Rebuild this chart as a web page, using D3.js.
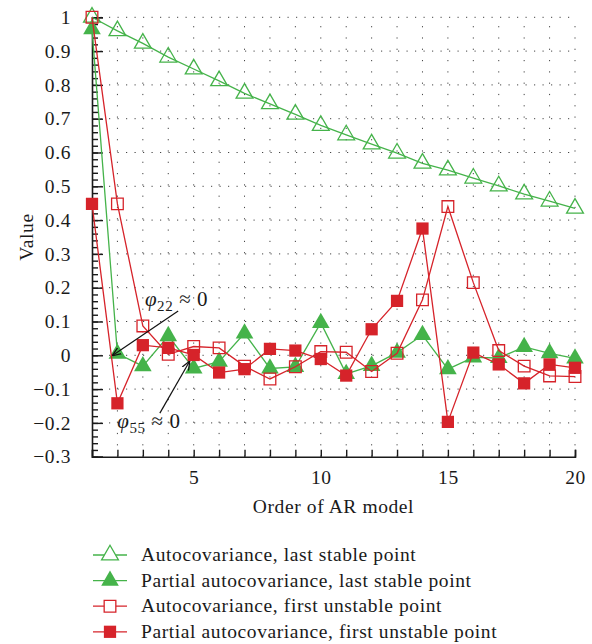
<!DOCTYPE html>
<html lang="en">
	<head>
		<meta charset="utf-8">
		<title>AR model autocovariance</title>
		<script src="https://d3js.org/d3.v7.min.js"></script>
		<style type="text/css">
			body {
				margin: 0;
				background: white;
			}
			text {
				font-family: "Liberation Serif", "Times New Roman", serif;
				fill: #1a1a1a;
				letter-spacing: 0.6px;
			}
		</style>
	</head>
	<body>
		<script type="text/javascript">
			//Data
			var orders = [1, 2, 3, 4, 5, 6, 7, 8, 9, 10, 11, 12, 13, 14, 15, 16, 17, 18, 19, 20];
			var acfStable = [1.0, 0.960, 0.923, 0.882, 0.847, 0.812, 0.775, 0.744, 0.713, 0.680, 0.652, 0.625, 0.598, 0.568, 0.548, 0.524, 0.501, 0.477, 0.456, 0.435];
			var pacfStable = [0.965, 0.005, -0.032, 0.057, -0.039, -0.019, 0.065, -0.039, -0.034, 0.096, -0.055, -0.031, 0.008, 0.060, -0.041, -0.006, -0.008, 0.025, 0.006, -0.009];
			var acfUnstable = [1.0, 0.448, 0.087, 0.003, 0.026, 0.022, -0.032, -0.070, -0.034, 0.011, 0.009, -0.048, 0.006, 0.164, 0.440, 0.215, 0.014, -0.032, -0.061, -0.063];
			var pacfUnstable = [0.448, -0.142, 0.030, 0.022, 0.001, -0.051, -0.041, 0.019, 0.014, -0.011, -0.060, 0.077, 0.161, 0.375, -0.197, 0.008, -0.027, -0.083, -0.027, -0.037];
			var seriesNames = ["Autocovariance, last stable point", "Partial autocovariance, last stable point", "Autocovariance, first unstable point", "Partial autocovariance, first unstable point"];
			var yTicks = [1, 0.9, 0.8, 0.7, 0.6, 0.5, 0.4, 0.3, 0.2, 0.1, 0, -0.1, -0.2, -0.3];
			var xTicks = [5, 10, 15, 20];

			var green = "#45b34a";
			var red = "#d6232a";

			var series = [
				{name: seriesNames[0], values: acfStable, color: green, shape: "triangle", filled: false},
				{name: seriesNames[1], values: pacfStable, color: green, shape: "triangle", filled: true},
				{name: seriesNames[2], values: acfUnstable, color: red, shape: "square", filled: false},
				{name: seriesNames[3], values: pacfUnstable, color: red, shape: "square", filled: true}
			];

			//Width and height
			var w = 592;
			var h = 644;
			var plotLeft = 92, plotRight = 575, plotTop = 17.3, plotBottom = 456.7;

			var xScale = d3.scaleLinear()
							.domain([1, 20])
							.range([plotLeft, plotRight]);

			var yScale = d3.scaleLinear()
							.domain([-0.3, 1])
							.range([plotBottom, plotTop]);

			var svg = d3.select("body")
						.append("svg")
						.attr("width", w)
						.attr("height", h);

			//Dotted grid
			svg.append("g")
			   .selectAll("line")
			   .data(yTicks.filter(function(d) { return d > -0.3; }))
			   .enter()
			   .append("line")
			   .attr("x1", plotLeft)
			   .attr("x2", plotRight)
			   .attr("y1", function(d) { return yScale(d); })
			   .attr("y2", function(d) { return yScale(d); })
			   .attr("stroke", "#444")
			   .attr("stroke-width", 1)
			   .attr("stroke-dasharray", "1.2,7.3");

			svg.append("g")
			   .selectAll("line")
			   .data(orders.slice(1))
			   .enter()
			   .append("line")
			   .attr("x1", function(d) { return xScale(d); })
			   .attr("x2", function(d) { return xScale(d); })
			   .attr("y1", plotBottom)
			   .attr("y2", plotTop)
			   .attr("stroke", "#444")
			   .attr("stroke-width", 1)
			   .attr("stroke-dasharray", "1.2,10.1");

			//X axis
			var xAxis = d3.axisBottom(xScale)
							.tickValues(orders)
							.tickSize(-7)
							.tickFormat(function(d) { return xTicks.indexOf(d) >= 0 ? d : ""; })
							.tickPadding(13);

			var gx = svg.append("g")
						.attr("transform", "translate(0," + plotBottom + ")")
						.call(xAxis);

			//Y axis: minor ticks every 0.02, labelled every 0.1
			var minor = d3.range(-15, 51).map(function(i) { return i / 50; });
			var yAxisMinor = d3.axisLeft(yScale)
							.tickValues(minor)
							.tickSize(-6)
							.tickFormat("");
			svg.append("g")
			   .attr("transform", "translate(" + plotLeft + ",0)")
			   .call(yAxisMinor)
			   .select(".domain").remove();

			var yAxis = d3.axisLeft(yScale)
							.tickValues(yTicks)
							.tickSize(-11)
							.tickPadding(21)
							.tickFormat(function(d) { return d === 0 ? "0" : d3.format("")(d).replace("-", "\u2212"); });

			var gy = svg.append("g")
						.attr("transform", "translate(" + plotLeft + ",0)")
						.call(yAxis);

			svg.selectAll(".domain").attr("stroke", "#1a1a1a").attr("stroke-width", 1.6);
			svg.selectAll(".tick line").attr("stroke", "#1a1a1a").attr("stroke-width", 1.4);
			svg.selectAll(".tick text")
			   .attr("font-family", "'Liberation Serif', serif")
			   .attr("font-size", "19.5px")
			   .attr("fill", "#1a1a1a");

			//Axis titles
			svg.append("text")
			   .attr("x", (plotLeft + plotRight) / 2)
			   .attr("y", 513)
			   .attr("text-anchor", "middle")
			   .attr("font-size", "19.5px")
			   .text("Order of AR model");

			svg.append("text")
			   .attr("transform", "translate(33," + ((plotTop + plotBottom) / 2) + ") rotate(-90)")
			   .attr("text-anchor", "middle")
			   .attr("font-size", "19.5px")
			   .text("Value");

			//Marker shapes
			function markerPath(shape, size) {
				if (shape === "triangle") {
					return d3.symbol().type(d3.symbolTriangle).size(size * 0.9)();
				}
				return d3.symbol().type(d3.symbolSquare).size(size)();
			}

			var line = d3.line()
						.x(function(d, i) { return xScale(orders[i]); })
						.y(function(d) { return yScale(d); });

			series.forEach(function(s) {
				var g = svg.append("g");
				g.append("path")
				 .attr("d", line(s.values))
				 .attr("fill", "none")
				 .attr("stroke", s.color)
				 .attr("stroke-width", 1.3);

				g.selectAll("path.mark")
				 .data(s.values)
				 .enter()
				 .append("path")
				 .attr("class", "mark")
				 .attr("d", markerPath(s.shape, s.filled ? 150 : 136))
				 .attr("transform", function(d, i) {
				 	return "translate(" + xScale(orders[i]) + "," + yScale(d) + ")";
				 })
				 .attr("fill", s.filled ? s.color : "none")
				 .attr("stroke", s.color)
				 .attr("stroke-width", s.filled ? 0 : 1.3);
			});

			//Annotations
			svg.append("defs")
			   .append("marker")
			   .attr("id", "arrow")
			   .attr("viewBox", "0 0 10 10")
			   .attr("refX", 9)
			   .attr("refY", 5)
			   .attr("markerWidth", 9)
			   .attr("markerHeight", 9)
			   .attr("markerUnits", "userSpaceOnUse")
			   .attr("orient", "auto")
			   .append("path")
			   .attr("d", "M0,1 L10,5 L0,9")
			   .attr("fill", "none")
			   .attr("stroke", "#111")
			   .attr("stroke-width", 1.4);

			var notes = [
				{label: "22", x: 3.08, y: 0.146, from: [4.39, 0.131], to: [1.82, 0]},
				{label: "55", x: 1.99, y: -0.215, from: [3.67, -0.171], to: [4.83, -0.019]}
			];

			notes.forEach(function(n) {
				svg.append("line")
				   .attr("x1", xScale(n.from[0]))
				   .attr("y1", yScale(n.from[1]))
				   .attr("x2", xScale(n.to[0]))
				   .attr("y2", yScale(n.to[1]))
				   .attr("stroke", "#111")
				   .attr("stroke-width", 1.2)
				   .attr("marker-end", "url(#arrow)");

				var t = svg.append("text")
						   .attr("x", xScale(n.x))
						   .attr("y", yScale(n.y))
						   .attr("font-size", "21px");
				t.append("tspan")
				 .attr("font-style", "italic")
				 .text("\u03c6");
				t.append("tspan")
				 .attr("dy", 5)
				 .attr("font-size", "15px")
				 .text(n.label);
				t.append("tspan")
				 .attr("dy", -5)
				 .text(" \u2248 0");
			});

			//Legend
			var legend = svg.append("g")
							.selectAll("g")
							.data(series)
							.enter()
							.append("g")
							.attr("transform", function(d, i) {
								return "translate(0," + (555 + i * 25.6) + ")";
							});

			legend.append("line")
				  .attr("x1", 93)
				  .attr("x2", 127)
				  .attr("stroke", function(d) { return d.color; })
				  .attr("stroke-width", 1.3);

			legend.append("path")
				  .attr("d", function(d) { return markerPath(d.shape, d.filled ? 150 : 136); })
				  .attr("transform", "translate(110,0)")
				  .attr("fill", function(d) { return d.filled ? d.color : "white"; })
				  .attr("stroke", function(d) { return d.color; })
				  .attr("stroke-width", function(d) { return d.filled ? 0 : 1.3; });

			legend.append("text")
				  .attr("x", 141)
				  .attr("y", 6)
				  .attr("font-size", "19.5px")
				  .text(function(d) { return d.name; });
		</script>
</body>
</html>
